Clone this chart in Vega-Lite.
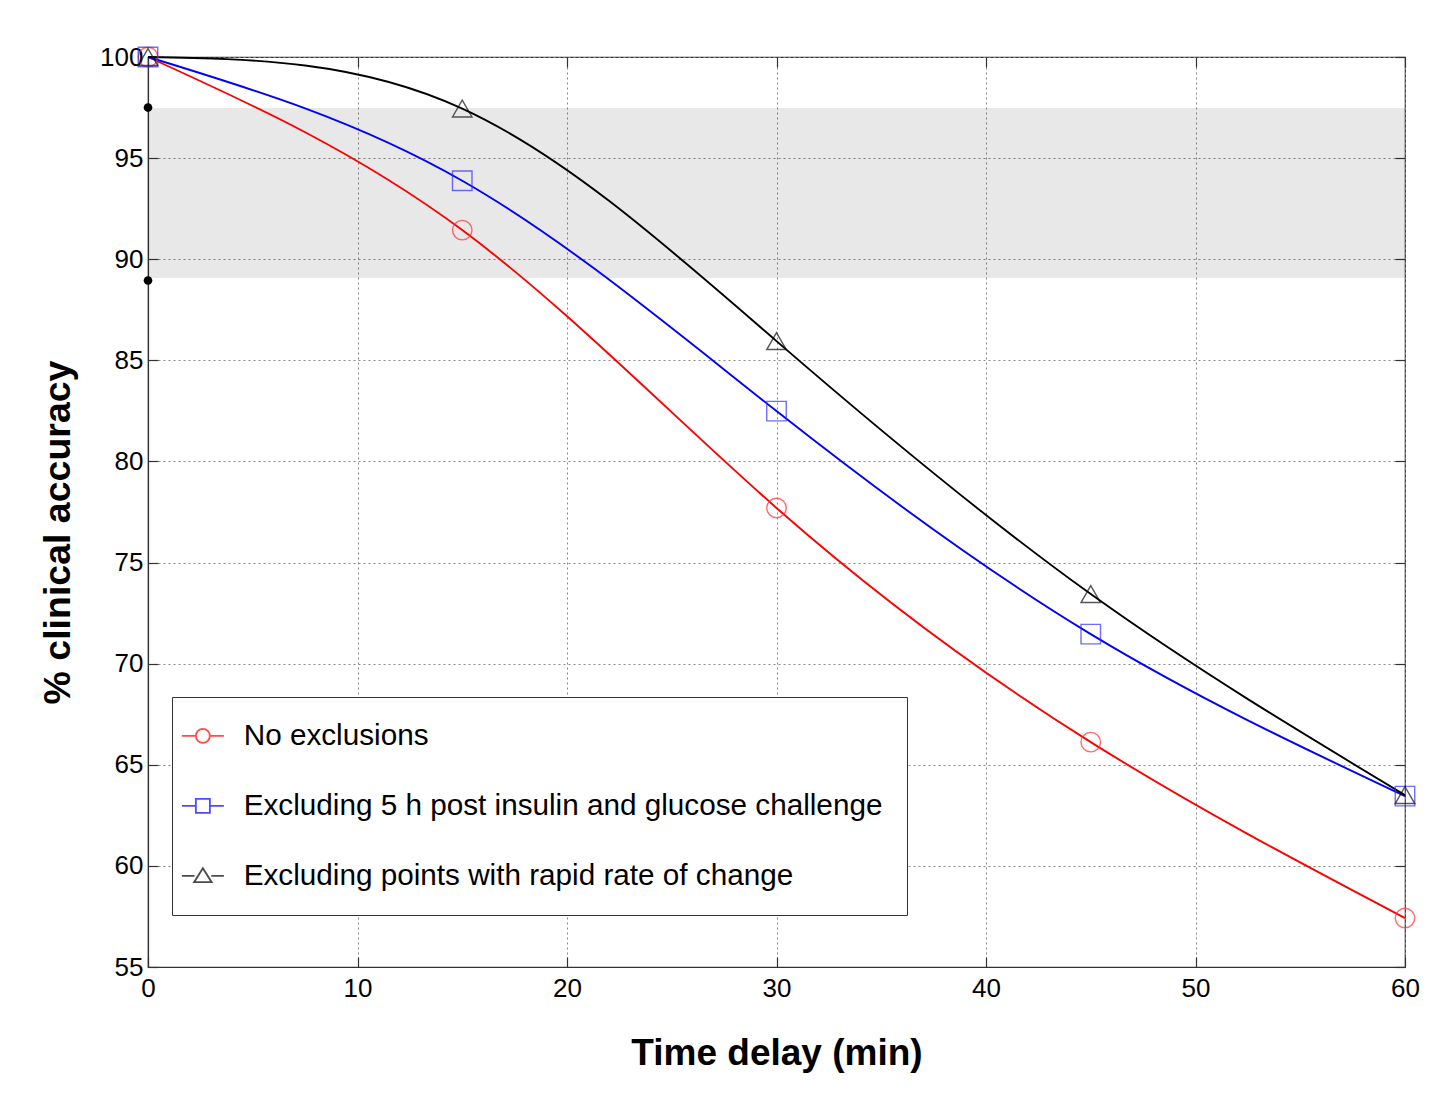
{
  "$schema": "https://vega.github.io/schema/vega-lite/v6.json",
  "width": 1257,
  "height": 910,
  "autosize": {"type": "none"},
  "padding": {"left": 148, "top": 57, "right": 34, "bottom": 133},
  "background": "white",
  "config": {
    "font": "Liberation Sans",
    "view": {"stroke": "#333", "strokeWidth": 1.2}
  },
  "datasets": {
    "curves": [
      {"t": 0, "v": 100, "series": "No exclusions"},
      {"t": 15, "v": 91.44, "series": "No exclusions"},
      {"t": 30, "v": 77.7, "series": "No exclusions"},
      {"t": 45, "v": 66.12, "series": "No exclusions"},
      {"t": 60, "v": 57.42, "series": "No exclusions"},
      {"t": 0, "v": 100, "series": "Excluding 5 h post insulin and glucose challenge"},
      {"t": 15, "v": 93.88, "series": "Excluding 5 h post insulin and glucose challenge"},
      {"t": 30, "v": 82.49, "series": "Excluding 5 h post insulin and glucose challenge"},
      {"t": 45, "v": 71.46, "series": "Excluding 5 h post insulin and glucose challenge"},
      {"t": 60, "v": 63.45, "series": "Excluding 5 h post insulin and glucose challenge"},
      {"t": 0, "v": 100, "series": "Excluding points with rapid rate of change"},
      {"t": 15, "v": 97.45, "series": "Excluding points with rapid rate of change"},
      {"t": 30, "v": 85.95, "series": "Excluding points with rapid rate of change"},
      {"t": 45, "v": 73.44, "series": "Excluding points with rapid rate of change"},
      {"t": 60, "v": 63.5, "series": "Excluding points with rapid rate of change"}
    ],
    "band": [{"x0": 0, "x1": 60, "lo": 89.07, "hi": 97.48}],
    "dots": [{"t": 0, "v": 97.5}, {"t": 0, "v": 88.95}]
  },
  "resolve": {
    "scale": {"color": "independent", "shape": "independent"},
    "axis": {"x": "independent", "y": "independent"}
  },
  "layer": [
    {
      "data": {"name": "band"},
      "mark": {"type": "rect", "fill": "#000000", "opacity": 0.09},
      "encoding": {
        "x": {
          "field": "x0", "type": "quantitative",
          "scale": {"domain": [0, 60], "nice": false},
          "axis": {
            "orient": "bottom", "values": [0, 10, 20, 30, 40, 50, 60],
            "title": "Time delay (min)", "titleFontSize": 37, "titleFontWeight": "bold",
            "titleColor": "black", "titlePadding": 34,
            "labelFontSize": 26, "labelColor": "black", "labelPadding": 18, "labelFlush": false,
            "tickSize": -10, "tickColor": "#333", "tickWidth": 1.2,
            "domainColor": "#333", "domainWidth": 1.2,
            "grid": true, "gridColor": "#888", "gridDash": [2, 3], "gridWidth": 1
          }
        },
        "x2": {"field": "x1"},
        "y": {
          "field": "lo", "type": "quantitative",
          "scale": {"domain": [55, 100], "nice": false, "zero": false},
          "axis": {
            "orient": "left", "values": [55, 60, 65, 70, 75, 80, 85, 90, 95, 100],
            "title": "% clinical accuracy", "titleFontSize": 37.5, "titleFontWeight": "bold",
            "titleColor": "black", "titlePadding": 22, "titleY": 475,
            "labelFontSize": 26, "labelColor": "black", "labelPadding": 15, "labelFlush": false,
            "tickSize": -10, "tickColor": "#333", "tickWidth": 1.2,
            "domainColor": "#333", "domainWidth": 1.2,
            "grid": true, "gridColor": "#888", "gridDash": [2, 3], "gridWidth": 1
          }
        },
        "y2": {"field": "hi"}
      }
    },
    {
      "data": {"name": "curves"},
      "mark": {"type": "line", "interpolate": "natural", "strokeWidth": 1.9},
      "encoding": {
        "x": {"field": "t", "type": "quantitative", "axis": null},
        "y": {"field": "v", "type": "quantitative", "axis": null},
        "color": {
          "field": "series", "type": "nominal", "legend": null,
          "scale": {
            "domain": ["No exclusions", "Excluding 5 h post insulin and glucose challenge", "Excluding points with rapid rate of change"],
            "range": ["#ff0000", "#0000ff", "#000000"]
          }
        }
      }
    },
    {
      "data": {"name": "curves"},
      "mark": {"type": "point", "filled": false, "size": 380, "strokeWidth": 1.4},
      "encoding": {
        "x": {"field": "t", "type": "quantitative", "axis": null},
        "y": {"field": "v", "type": "quantitative", "axis": null},
        "color": {
          "field": "series", "type": "nominal", "legend": null,
          "scale": {
            "domain": ["No exclusions", "Excluding 5 h post insulin and glucose challenge", "Excluding points with rapid rate of change"],
            "range": ["#ff3030", "#3030ff", "#111111"]
          }
        },
        "shape": {
          "field": "series", "type": "nominal", "legend": null,
          "scale": {
            "domain": ["No exclusions", "Excluding 5 h post insulin and glucose challenge", "Excluding points with rapid rate of change"],
            "range": ["circle", "square", "triangle-up"]
          }
        }
      }
    },
    {
      "data": {"name": "dots"},
      "mark": {"type": "point", "filled": true, "size": 75, "color": "black", "opacity": 1},
      "encoding": {
        "x": {
          "field": "t", "type": "quantitative",
          "axis": {
            "orient": "top", "values": [0, 10, 20, 30, 40, 50, 60], "labels": false, "title": null,
            "grid": false, "domain": false, "tickSize": -10, "tickColor": "#333", "tickWidth": 1.2
          }
        },
        "y": {
          "field": "v", "type": "quantitative",
          "axis": {
            "orient": "right", "values": [55, 60, 65, 70, 75, 80, 85, 90, 95, 100], "labels": false, "title": null,
            "grid": false, "domain": false, "tickSize": -10, "tickColor": "#333", "tickWidth": 1.2
          }
        }
      }
    },
    {
      "data": {"values": []},
      "mark": {"type": "point", "filled": false, "size": 196, "strokeWidth": 1.8},
      "encoding": {
        "color": {
          "field": "series", "type": "nominal",
          "scale": {
            "domain": ["No exclusions", "Excluding 5 h post insulin and glucose challenge", "Excluding points with rapid rate of change"],
            "range": ["#ff0000", "#0000ff", "#000000"]
          },
          "legend": {
            "orient": "none", "legendX": 24, "legendY": 640, "title": null,
            "padding": 24, "strokeColor": "#333", "fillColor": "white",
            "labelFontSize": 29.7, "labelColor": "black", "labelLimit": 900, "labelOffset": 18,
            "symbolSize": 196, "symbolStrokeWidth": 1.8, "rowPadding": 39
          }
        },
        "shape": {
          "field": "series", "type": "nominal",
          "scale": {
            "domain": ["No exclusions", "Excluding 5 h post insulin and glucose challenge", "Excluding points with rapid rate of change"],
            "range": [
              "M-4.14,0H-2.14M-0.14,0H1.86M-0.14,0A1,1 0 1,1 -2.14,0A1,1 0 1,1 -0.14,0",
              "M-4.14,0H-2.14M-0.14,0H1.86M-2.14,-1H-0.14V1H-2.14Z",
              "M-4.14,0H-2.34M0.06,0H1.86M-1.14,-1.1L0.11,0.9L-2.39,0.9Z"
            ]
          },
          "legend": {
            "orient": "none", "legendX": 24, "legendY": 640, "title": null,
            "padding": 24, "strokeColor": "#333", "fillColor": "white",
            "labelFontSize": 29.7, "labelColor": "black", "labelLimit": 900, "labelOffset": 18,
            "symbolSize": 196, "symbolStrokeWidth": 1.8, "rowPadding": 39
          }
        }
      }
    }
  ]
}
